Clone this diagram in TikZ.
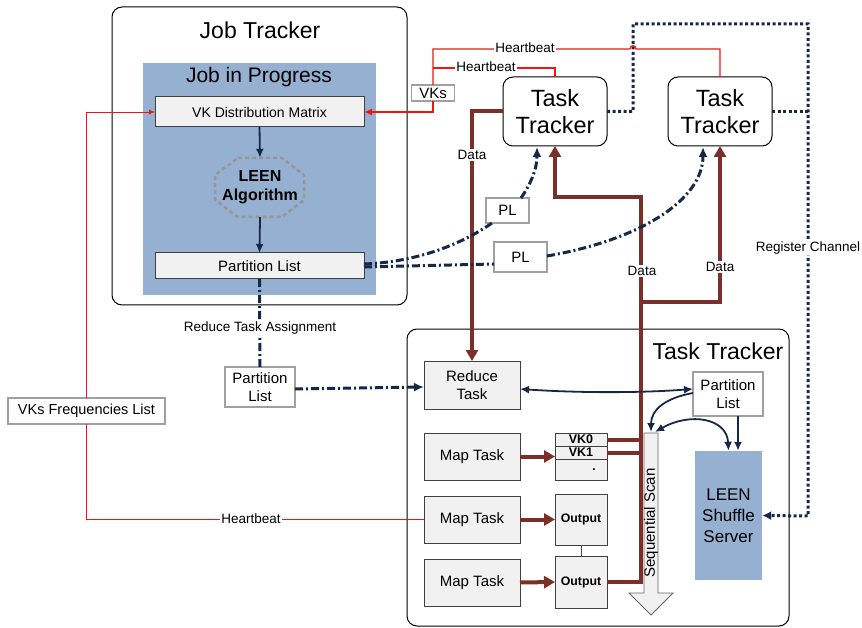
\documentclass[tikz,border=0pt]{standalone}
\usepackage{fontspec}
\setmainfont{Liberation Sans}
\usetikzlibrary{arrows.meta,calc}
\definecolor{jblue}{RGB}{149,176,208}
\definecolor{boxfill}{RGB}{241,241,241}
\definecolor{navy}{RGB}{22,40,72}
\definecolor{dbrown}{RGB}{122,48,40}
\definecolor{hbred}{RGB}{240,20,20}
\definecolor{lblgray}{RGB}{160,160,160}
\definecolor{octgray}{RGB}{150,150,150}
\tikzset{
  tracker/.style={draw=black, line width=1pt, rounded corners=10pt, fill=white, inner sep=0pt, outer sep=0pt},
  graybox/.style={draw=black!75, line width=1pt, fill=boxfill, inner sep=0pt, outer sep=0pt, align=center},
  lbl/.style={draw=lblgray, line width=1.2pt, fill=white, inner sep=0pt, outer sep=0pt, align=center},
  onlbl/.style={fill=white, inner sep=1pt},
  data/.style={draw=dbrown, line width=4pt},
  dataarrow/.style={data, -{Triangle[length=11pt,width=12pt]}},
  plline/.style={draw=navy, line width=3pt, dash pattern=on 8pt off 3pt on 2pt off 3pt},
  regline/.style={draw=navy, line width=3pt, dash pattern=on 3pt off 2.5pt},
  hb/.style={draw=hbred, line width=1.2pt},
  navyarr/.style={draw=navy, line width=1.8pt},
  f13/.style={font=\fontsize{13.5}{16}\selectfont},
  f14/.style={font=\fontsize{14}{17}\selectfont},
  f15/.style={font=\fontsize{15}{18}\selectfont},
}
\begin{document}
\begin{tikzpicture}[x=1pt,y=-1pt]
\useasboundingbox (0,0) rectangle (862,628);
% ---------- Job Tracker ----------
\node[tracker, minimum width=295pt, minimum height=298pt] (jt) at (259.5,156) {};
\node[font=\fontsize{23}{26}\selectfont] (jtt) at (260,30) {Job Tracker};
\node[fill=jblue, inner sep=0pt, minimum width=233pt, minimum height=232pt] (jip) at (259.5,179) {};
\node[font=\fontsize{21}{24}\selectfont] (jipt) at (259,77) {Job in Progress};
\node[graybox, f14, minimum width=209pt, minimum height=30pt] (vk) at (259.5,112) {VK Distribution Matrix};
\node[font=\fontsize{16}{19}\selectfont\bfseries, align=center, inner sep=0pt, minimum width=89pt, minimum height=59pt] (leen) at (260,187.5) {LEEN\\Algorithm};
\draw[octgray, line width=2.5pt, dash pattern=on 4pt off 3pt]
  (238,158) -- (282,158) -- (304,175) -- (304,200) -- (282,217) -- (238,217) -- (215,200) -- (215,175) -- cycle;
\node[graybox, f15, minimum width=209pt, minimum height=26pt] (pl) at (259.5,266) {Partition List};
\draw[navyarr, -{Latex[length=9pt,width=8pt]}] (vk.south) -- (leen.north);
\draw[navyarr, -{Latex[length=9pt,width=8pt]}] (leen.south) -- (pl.north);

% ---------- Task Trackers (top) ----------
\node[tracker, align=center, font=\fontsize{23.5}{27}\selectfont, minimum width=104pt, minimum height=69pt] (tt1) at (555,111.5) {Task\\Tracker};
\node[tracker, align=center, font=\fontsize{23.5}{27}\selectfont, minimum width=104pt, minimum height=69pt] (tt2) at (720,111.5) {Task\\Tracker};

% ---------- Task Tracker (bottom) ----------
\node[tracker, minimum width=382pt, minimum height=297pt] (ttb) at (598,477.5) {};
\node[font=\fontsize{23}{26}\selectfont] (ttbt) at (718,351) {Task Tracker};
\node[graybox, f15, minimum width=96pt, minimum height=48pt] (rt) at (472,385) {Reduce\\Task};
\node[graybox, f15, minimum width=96pt, minimum height=47pt] (mt1) at (472,456.5) {Map Task};
\node[graybox, f15, minimum width=96pt, minimum height=47pt] (mt2) at (472,519.5) {Map Task};
\node[graybox, f15, minimum width=96pt, minimum height=47pt] (mt3) at (472,582.5) {Map Task};
\node[graybox, minimum width=52pt, minimum height=47pt] (vkst) at (581,456.5) {};
\node[graybox, font=\fontsize{12.5}{14}\selectfont\bfseries, minimum width=52pt, minimum height=13pt] (vk0) at (581,439.5) {VK0};
\node[graybox, font=\fontsize{12.5}{14}\selectfont\bfseries, minimum width=52pt, minimum height=13pt] (vk1) at (581,452.5) {VK1};
\node[font=\bfseries\fontsize{12}{14}\selectfont, inner sep=0pt] (dot) at (594,470) {.};
\node[graybox, font=\fontsize{12.3}{14}\selectfont\bfseries, minimum width=52pt, minimum height=51pt] (out1) at (581,519.5) {Output};
\node[graybox, font=\fontsize{12.3}{14}\selectfont\bfseries, minimum width=52pt, minimum height=52pt] (out2) at (581,582) {Output};
\draw[black!70, line width=1pt] (out1.south) -- (out2.north);
% sequential scan arrow
\draw[draw=black!60, fill=boxfill, line width=0.8pt]
  (644,433) -- (658,433) -- (658,593) -- (673,593) -- (651,615) -- (629,593) -- (644,593) -- cycle;
\coordinate (seqtop) at (651,432);
\node[f15, rotate=90, inner sep=0pt] (seqt) at (651,523) {Sequential Scan};
\node[lbl, f15, minimum width=70pt, minimum height=44pt] (plr) at (728,394) {Partition\\List};
\node[fill=jblue, inner sep=0pt, align=center, font=\fontsize{17}{21}\selectfont, minimum width=67pt, minimum height=129pt] (lss) at (728.5,515.5) {LEEN\\Shuffle\\Server};

% ---------- data (brown) ----------
\coordinate (spine) at (641,197);
\coordinate (spine2) at (641,302);
\draw[dataarrow] (tt1.west) -| (rt.north);
\draw[dataarrow] (out2.east) -| (spine) -| (tt1.south);
\draw[dataarrow] (spine2) -| (tt2.south);
\draw[data] (vk0.east) -- (vk0.east -| spine);
\draw[data] (vk1.east) -- (vk1.east -| spine);
\draw[dataarrow] (mt1.east) -- (vkst.west);
\draw[dataarrow] (mt2.east) -- (out1.west);
\draw[dataarrow] (mt3.east) -- (out2.west);
\node[onlbl, f13] (d1) at (472,155) {Data};
\node[onlbl, f13] (d2) at (642,271) {Data};
\node[onlbl, f13] (d3) at (720,267) {Data};

% ---------- register channel ----------
\coordinate (rc1) at (633,24);
\coordinate (rc2) at (808,516);
\draw[regline, -{Latex[length=9pt,width=9pt]}] (tt1.east) -| (rc1) -| (rc2) -- (lss.east);
\draw[regline] (tt2.east) -- (tt2.east -| rc2);
\node[onlbl, f13] (rcl) at (808,248) {Register Channel};

% ---------- heartbeat (red) ----------
\node[lbl, font=\fontsize{15}{17}\selectfont, minimum width=43pt, minimum height=16pt] (vks) at (433,93) {VKs};
\draw[hb] (tt2.north) |- (636,49) .. controls (636,44.5) and (630,44.5) .. (630,49) -- (433,49) -- (vks.north);
\draw[hb] (tt1.north) |- (433,68);
\draw[hbred, line width=1.8pt, -{Latex[length=8pt,width=7pt]}] (vks.south) |- (vk.east);
\node[onlbl, f13] (hb1) at (525,48) {Heartbeat};
\node[onlbl, f13] (hb2) at (486,67) {Heartbeat};
\node[lbl, font=\fontsize{14.5}{17}\selectfont, minimum width=157pt, minimum height=26pt] (fl) at (86.5,411) {VKs Frequencies List};
\draw[hbred, line width=0.9pt] (mt2.west) -| (fl.south);
\draw[hbred, line width=0.9pt, -{Latex[length=6pt,width=5pt]}] (fl.north) |- (vk.west);
\node[onlbl, f13] (hb3) at (251,519) {Heartbeat};

% ---------- partition list (dash-dot) ----------
\node[lbl, f15, minimum width=43pt, minimum height=25pt] (pl1) at (507.5,210.5) {PL};
\node[lbl, f15, minimum width=53pt, minimum height=30pt] (pl2) at (520.5,257) {PL};
\draw[plline] ([yshift=2pt]pl.east) .. controls (420,262) and (465,242) .. ([xshift=6pt]pl1.south west);
\draw[plline, -{Latex[length=10pt,width=9pt]}] ([xshift=-8pt]pl1.north east) .. controls (530,185) and (537,170) .. (537,147);
\draw[plline] ([yshift=-1pt]pl.east) -- ([yshift=-7pt]pl2.west);
\draw[plline, -{Latex[length=10pt,width=9pt]}] ([yshift=1pt]pl2.east) .. controls (640,240) and (703,200) .. (703,147);
\node[lbl, f15, minimum width=70pt, minimum height=40pt] (plb) at (260,387) {Partition\\List};
\draw[plline] (pl.south) -- (plb.north);
\node[onlbl, f13] (rta) at (260,328) {Reduce Task Assignment};
\draw[plline, -{Latex[length=10pt,width=9pt]}] ([yshift=-2pt]plb.east) -- ([yshift=-2pt]rt.west);

% ---------- lower navy arrows ----------
\draw[navyarr, {Latex[length=9pt,width=8pt]}-{Latex[length=9pt,width=8pt]}] ([yshift=-4pt]rt.east) .. controls (580,393) and (640,393) .. ([yshift=5pt]plr.west);
\draw[navyarr, -{Latex[length=9pt,width=8pt]}] ([yshift=1pt]plr.west) .. controls (665,398) and (651,410) .. (seqtop);
\draw[navyarr, {Latex[length=9pt,width=8pt]}-{Latex[length=9pt,width=8pt]}] ([xshift=4pt]seqtop) .. controls (690,412) and (727,418) .. (lss.north);
\draw[navyarr, -{Latex[length=9pt,width=8pt]}] ([xshift=10pt]plr.south) -- ([xshift=9.5pt]lss.north);
\end{tikzpicture}
\end{document}
